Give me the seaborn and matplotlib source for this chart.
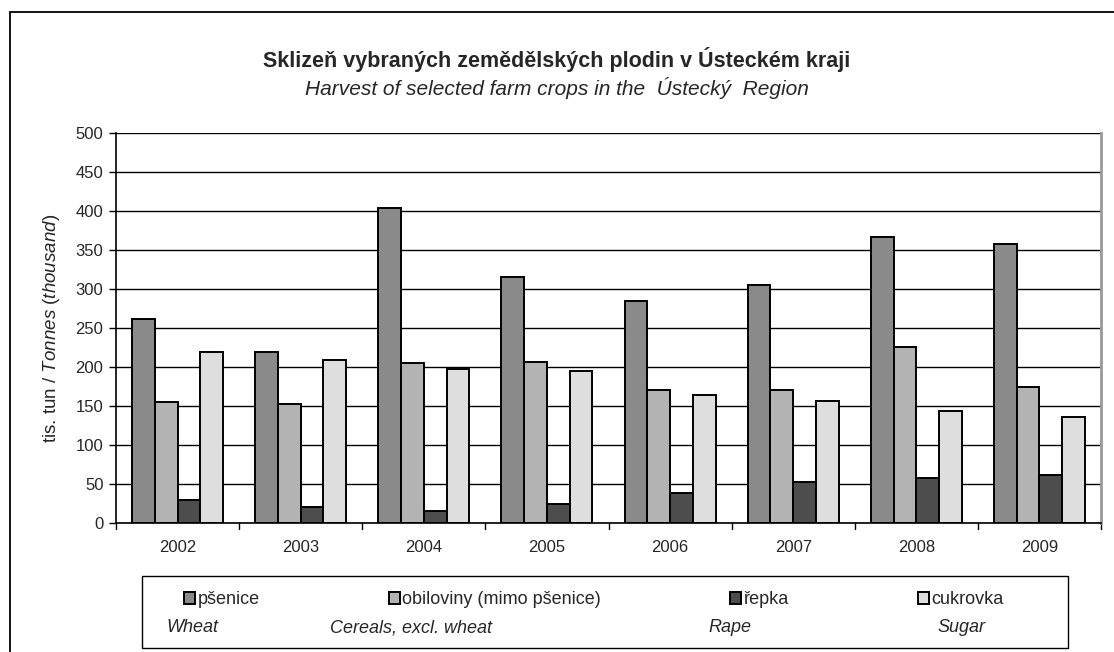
import pandas as pd
import seaborn as sns
import matplotlib.pyplot as plt
from matplotlib.patches import Rectangle

years = ["2002", "2003", "2004", "2005", "2006", "2007", "2008", "2009"]
crops_cz = ["pšenice", "obiloviny (mimo pšenice)", "řepka", "cukrovka"]
crops_en = ["Wheat", "Cereals, excl. wheat", "Rape", "Sugar"]

wheat = [262, 219, 404, 316, 284, 305, 367, 358]
cereals = [155, 152, 205, 207, 171, 171, 226, 175]
rape = [30, 20, 15, 25, 38, 52, 58, 61]
sugar = [219, 209, 197, 195, 164, 157, 144, 136]

yticks = list(range(0, 501, 50))

sns.set_style("white")
plt.rcParams["font.family"] = ["Liberation Sans", "DejaVu Sans"]
plt.rcParams["mathtext.fontset"] = "custom"
plt.rcParams["mathtext.rm"] = "Liberation Sans"
plt.rcParams["mathtext.it"] = "Liberation Sans:italic"

rows = []
for crop, vals in zip(crops_cz, [wheat, cereals, rape, sugar]):
    for y, v in zip(years, vals):
        rows.append({"year": y, "crop": crop, "value": v})
df = pd.DataFrame(rows)

colors = ["#8a8a8a", "#b3b3b3", "#4d4d4d", "#dedede"]

fig = plt.figure(figsize=(11.14, 6.52), dpi=100)
ax = fig.add_axes([116 / 1114, 1 - 523 / 652, (1101 - 116) / 1114, (523 - 133) / 652])

sns.barplot(data=df, x="year", y="value", hue="crop", hue_order=crops_cz,
            palette=colors, width=0.74, gap=0, edgecolor="black", linewidth=1.4,
            saturation=1, ax=ax, legend=True)

ax.set_ylim(0, 500)
ax.set_xlim(-0.5, len(years) - 0.5)
ax.set_yticks(yticks)
ax.set_yticklabels([str(t) for t in yticks], fontsize=12)
ax.tick_params(axis="x", length=0, pad=12, labelsize=12)
ax.tick_params(axis="y", direction="out", length=5, width=1, color="black", left=True, pad=4)
ax.yaxis.grid(True, color="black", linewidth=1)
ax.set_axisbelow(True)

# ticks between the year groups
for b in range(len(years) + 1):
    ax.plot([b - 0.5, b - 0.5], [0, -8], color="black", lw=1, clip_on=False)

for s in ["left", "bottom"]:
    ax.spines[s].set_color("black")
    ax.spines[s].set_linewidth(1.2)
ax.spines["top"].set_visible(False)
ax.spines["right"].set_color("#999999")
ax.spines["right"].set_linewidth(2)
ax.set_xlabel("")
ax.set_ylabel("tis. tun / $\\mathit{Tonnes\\ (thousand)}$", fontsize=13.5, labelpad=10)

handles, labels = ax.get_legend_handles_labels()
ax.get_legend().remove()
fig.legend(handles, crops_cz, ncol=4, frameon=False, fontsize=13,
           loc="center left", bbox_to_anchor=(184 / 1114, 1 - 600 / 652),
           columnspacing=7.15, handlelength=0.6, handleheight=0.6,
           handletextpad=0.15, borderpad=0, borderaxespad=0)

fig.patches.append(Rectangle((142 / 1114, 1 - 648 / 652), 926 / 1114, 72 / 652,
                             transform=fig.transFigure, fill=False,
                             edgecolor="black", linewidth=1))
for label, xpx in zip(crops_en, [166, 330, 708, 937]):
    fig.text(xpx / 1114, 1 - 628 / 652, label, fontsize=13, style="italic",
             ha="left", va="center")

fig.patches.append(Rectangle((10 / 1114, -0.05), 1.2, 1.05 - 12 / 652,
                             transform=fig.transFigure, fill=False,
                             edgecolor="black", linewidth=1.3))

fig.text(0.5, 1 - 60 / 652, "Sklizeň vybraných zemědělských plodin v Ústeckém kraji",
         fontsize=15.5, fontweight="bold", ha="center", va="center")
fig.text(0.5, 1 - 88 / 652, "Harvest of selected farm crops in the  Ústecký  Region",
         fontsize=15, style="italic", ha="center", va="center")

fig.savefig("out.png", dpi=100)
